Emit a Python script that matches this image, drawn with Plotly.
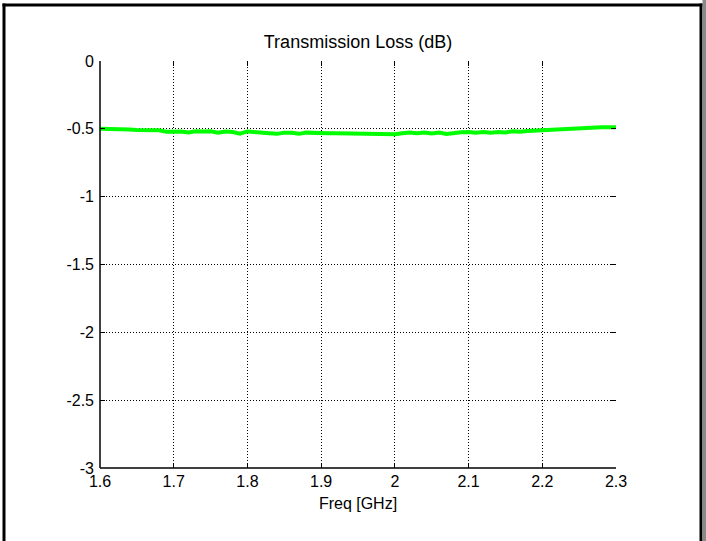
import plotly.graph_objects as go

freq_ghz = [1.60, 1.61, 1.62, 1.63, 1.64, 1.65, 1.66, 1.67, 1.68, 1.69,
            1.70, 1.71, 1.72, 1.73, 1.74, 1.75, 1.76, 1.77, 1.78, 1.79,
            1.80, 1.81, 1.82, 1.83, 1.84, 1.85, 1.86, 1.87, 1.88, 1.89,
            1.90, 1.91, 1.92, 1.93, 1.94, 1.95, 1.96, 1.97, 1.98, 1.99,
            2.00, 2.01, 2.02, 2.03, 2.04, 2.05, 2.06, 2.07, 2.08, 2.09,
            2.10, 2.11, 2.12, 2.13, 2.14, 2.15, 2.16, 2.17, 2.18, 2.19,
            2.20, 2.21, 2.22, 2.23, 2.24, 2.25, 2.26, 2.27, 2.28, 2.29,
            2.30]
loss_db = [-0.500, -0.500, -0.500, -0.500, -0.505, -0.508, -0.509, -0.509, -0.510, -0.522,
           -0.517, -0.519, -0.526, -0.518, -0.519, -0.518, -0.528, -0.519, -0.523, -0.536,
           -0.519, -0.526, -0.530, -0.533, -0.537, -0.528, -0.529, -0.537, -0.528, -0.532,
           -0.530, -0.533, -0.533, -0.533, -0.533, -0.533, -0.533, -0.533, -0.533, -0.533,
           -0.540, -0.532, -0.528, -0.533, -0.528, -0.535, -0.528, -0.538, -0.529, -0.526,
           -0.523, -0.528, -0.524, -0.528, -0.524, -0.527, -0.518, -0.522, -0.516, -0.513,
           -0.513, -0.508, -0.504, -0.504, -0.503, -0.498, -0.490, -0.489, -0.489, -0.489,
           -0.489]

x_ticks = [1.6, 1.7, 1.8, 1.9, 2.0, 2.1, 2.2, 2.3]
x_tick_labels = ["1.6", "1.7", "1.8", "1.9", "2", "2.1", "2.2", "2.3"]
y_ticks = [0, -0.5, -1, -1.5, -2, -2.5, -3]
y_tick_labels = ["0", "-0.5", "-1", "-1.5", "-2", "-2.5", "-3"]

title_text = "Transmission Loss (dB)"
x_title = "Freq [GHz]"

W, H = 706, 541
L, R, T, B = 100, 616, 61, 468


def px_x(p):
    return (p - L) / (R - L)


def px_y(p):
    return (B - p) / (B - T)


fig = go.Figure()
fig.add_trace(go.Scatter(
    x=freq_ghz, y=loss_db, mode="lines",
    line=dict(color="#00ff00", width=4),
    showlegend=False, hoverinfo="x+y",
))

font_family = "Liberation Sans, Arial, sans-serif"
grid_dash = "1px,2px"

fig.update_layout(
    width=W, height=H,
    margin=dict(l=L, r=W - R, t=T, b=H - B, autoexpand=False),
    paper_bgcolor="white", plot_bgcolor="white",
    font=dict(family=font_family, size=16, color="black"),
    title=dict(text=title_text, x=0.5, xref="paper", xanchor="center",
               y=1 - 42 / H, yref="container", yanchor="middle",
               font=dict(size=18, color="black")),
    xaxis=dict(range=[1.6, 2.3], tickvals=x_ticks, ticktext=x_tick_labels,
               showgrid=True, gridcolor="black", gridwidth=1, griddash=grid_dash,
               zeroline=False, showline=False, mirror="ticks",
               ticks="inside", ticklen=5, tickcolor="black", tickwidth=1,
               tickfont=dict(size=16), automargin=False, ticklabelstandoff=2,
               title=dict(text=x_title, font=dict(size=16), standoff=8)),
    yaxis=dict(range=[-3, 0], tickvals=y_ticks, ticktext=y_tick_labels,
               showgrid=True, gridcolor="black", gridwidth=1, griddash=grid_dash,
               zeroline=False, showline=False, mirror="ticks",
               ticks="inside", ticklen=5, tickcolor="black", tickwidth=1,
               tickfont=dict(size=16), automargin=False, ticklabelstandoff=5),
)

shapes = [
    # solid left and bottom axis lines
    dict(type="line", xref="paper", yref="paper", x0=0, x1=0, y0=0, y1=1,
         line=dict(color="black", width=1.5)),
    dict(type="line", xref="paper", yref="paper", x0=0, x1=1, y0=0, y1=0,
         line=dict(color="black", width=1.5)),
    # outer frame
    dict(type="line", xref="paper", yref="paper", x0=px_x(4), x1=px_x(4),
         y0=px_y(3.5), y1=px_y(545), line=dict(color="black", width=3)),
    dict(type="line", xref="paper", yref="paper", x0=px_x(2.5), x1=px_x(702.5),
         y0=px_y(5), y1=px_y(5), line=dict(color="black", width=3)),
    dict(type="line", xref="paper", yref="paper", x0=px_x(701), x1=px_x(701),
         y0=px_y(3.5), y1=px_y(545), line=dict(color="black", width=3)),
    dict(type="line", xref="paper", yref="paper", x0=px_x(704.5), x1=px_x(704.5),
         y0=px_y(0), y1=px_y(545), line=dict(color="#8a8a8a", width=4)),
]
fig.update_layout(shapes=shapes)

fig.write_html("out.html",
               config={"displayModeBar": False},
               post_script="document.body.style.margin='0';"
                           "document.body.style.overflow='hidden';")
